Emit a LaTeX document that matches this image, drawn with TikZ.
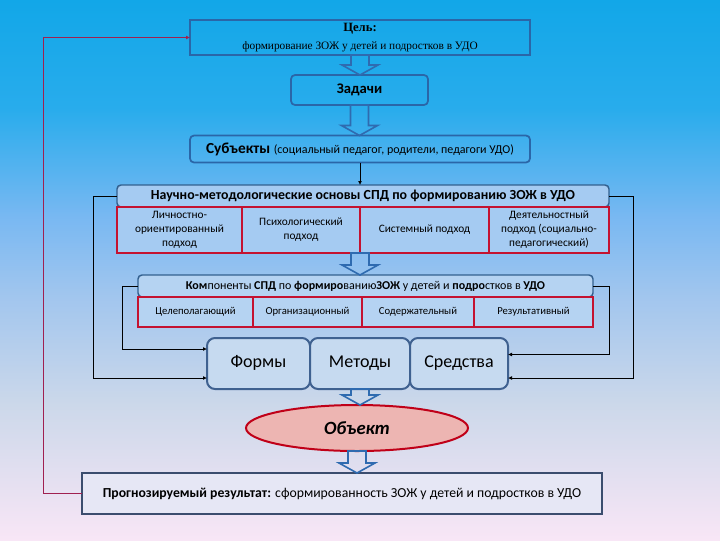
\documentclass[tikz,border=0pt]{standalone}
\usepackage{fontspec}
\setmainfont{Carlito}
\newfontfamily\serifcyr{Liberation Serif}
\usetikzlibrary{calc,shapes.geometric,arrows.meta}
\definecolor{bgA}{HTML}{12A7E8}
\definecolor{bgB}{HTML}{28ACEC}
\definecolor{bgC}{HTML}{78B8F2}
\definecolor{bgD}{HTML}{A2C6EE}
\definecolor{bgE}{HTML}{CCD8EA}
\definecolor{bgF}{HTML}{F8E6F6}
\definecolor{boxblue}{HTML}{2A66A8}
\definecolor{hdrfill}{HTML}{A5CBF2}
\definecolor{hdrdraw}{HTML}{33608F}
\definecolor{cellred}{HTML}{C41230}
\definecolor{kfill}{HTML}{B5D3F2}
\definecolor{ffill}{HTML}{C6DAF0}
\definecolor{fdraw}{HTML}{3F6190}
\definecolor{objfill}{HTML}{EDB5B2}
\definecolor{objdraw}{HTML}{C00018}
\definecolor{resfill}{HTML}{E6E7F5}
\definecolor{resdraw}{HTML}{3B4D6E}
\definecolor{redln}{HTML}{A02050}
\definecolor{arrblue}{HTML}{2F6BB0}
\pgfdeclareverticalshading{bgshade}{100bp}{color(0bp)=(bgF); color(25bp)=(bgF); color(37.5bp)=(bgE); color(47.5bp)=(bgD); color(55bp)=(bgC); color(65bp)=(bgB); color(75bp)=(bgA); color(100bp)=(bgA)}
\newcommand{\barrow}[2]{%
  \draw[barrowst] let \p1=(#1), \p2=(#2) in
  (\x1-6.75pt,\y1) -- (\x1-6.75pt,\y2+7.5pt) -- (\x1-13.5pt,\y2+7.5pt) -- (\x1,\y2)
  -- (\x1+13.5pt,\y2+7.5pt) -- (\x1+6.75pt,\y2+7.5pt) -- (\x1+6.75pt,\y1) -- cycle;}
\begin{document}
\begin{tikzpicture}[x=0.75pt,y=-0.75pt,
  every node/.style={inner sep=0pt, outer sep=0pt, align=center},
  plainbox/.style={draw=boxblue, line width=1.3pt},
  rbox/.style={plainbox, rounded corners=3pt},
  hdrbox/.style={draw=hdrdraw, fill=hdrfill, line width=1.1pt, rounded corners=3pt},
  khdrbox/.style={draw=hdrdraw, fill=kfill, line width=1.1pt, rounded corners=3pt},
  cellbox/.style={draw=cellred, fill=hdrfill, line width=1.1pt, font=\fontsize{8.5}{10.5}\selectfont},
  kcell/.style={draw=cellred, fill=kfill, line width=1.1pt, font=\fontsize{8}{9}\selectfont},
  fbox/.style={draw=fdraw, fill=ffill, line width=1.5pt, rounded corners=6pt, text height=9.5pt, text depth=3pt, font=\fontsize{13.5}{15}\selectfont},
  objell/.style={ellipse, draw=objdraw, fill=objfill, line width=1.5pt, font=\fontsize{14}{16}\selectfont\bfseries\itshape},
  resbox/.style={draw=resdraw, fill=resfill, line width=1.5pt, font=\fontsize{10.3}{12}\selectfont},
  conn/.style={draw=black, line width=0.7pt, -{Latex[length=3pt,width=3pt]}},
  redconn/.style={draw=redln, line width=0.7pt, -{Latex[length=3pt,width=3pt]}},
  barrowst/.style={draw=arrblue, line width=1.2pt, line join=miter}
]
\shade[shading=bgshade] (0,0) rectangle (720,540);
\useasboundingbox (0,0) rectangle (720,540);

% top chain
\node[plainbox, minimum width=255pt, minimum height=26.25pt, font=\serifcyr] (goal) at (360,37.5)
  {\serifcyr\fontsize{9.5}{10}\selectfont\textbf{Цель:}\\[2pt]\serifcyr\fontsize{8.5}{10}\selectfont формирование ЗОЖ у детей и подростков в УДО};
\node[rbox, minimum width=102.75pt, minimum height=22.5pt, font=\fontsize{11}{12}\selectfont\bfseries] (tasks) at (359.5,90) {Задачи};
\node[rbox, minimum width=255pt, minimum height=20.25pt] (subj) at (360,149)
  {\fontsize{11.5}{12}\selectfont\textbf{Субъекты} \fontsize{9}{10}\selectfont(социальный педагог, родители, педагоги УДО)};

% scientific bases
\node[hdrbox, minimum width=369pt, minimum height=16.5pt, font=\fontsize{10.4}{12}\selectfont\bfseries] (nhead) at (363,196)
  {Научно-методологические основы СПД по формированию ЗОЖ в УДО};
\node[cellbox, minimum width=93.75pt, minimum height=34.5pt] (c1) at (179.5,230) {Личностно-\\ориентированный\\подход};
\node[cellbox, minimum width=88.5pt, minimum height=34.5pt] (c2) at (301,230) {Психологический\\подход};
\node[cellbox, minimum width=96.75pt, minimum height=34.5pt] (c3) at (424.5,230) {Системный подход};
\node[cellbox, minimum width=90pt, minimum height=34.5pt] (c4) at (549,230) {Деятельностный\\подход (социально-\\педагогический)};

% components
\node[khdrbox, minimum width=341.25pt, minimum height=16.5pt, font=\fontsize{9}{10}\selectfont] (khead) at (365.5,286)
  {\textbf{Ком}поненты \textbf{СПД} по \textbf{формиро}ванию\textbf{ЗОЖ} у детей и \textbf{подро}стков в \textbf{УДО}};
\node[kcell, minimum width=86.25pt, minimum height=22.5pt] (k1) at (195.5,312) {Целеполагающий};
\node[kcell, minimum width=81.75pt, minimum height=22.5pt] (k2) at (307.5,312) {Организационный};
\node[kcell, minimum width=84pt, minimum height=22.5pt] (k3) at (418,312) {Содержательный};
\node[kcell, minimum width=89.25pt, minimum height=22.5pt] (k4) at (533.5,312) {Результативный};

% forms, methods, means
\node[fbox, minimum width=77.25pt, minimum height=38.25pt] (f1) at (258.5,363.5) {Формы};
\node[fbox, minimum width=75pt, minimum height=38.25pt] (f2) at (360,363.5) {Методы};
\node[fbox, minimum width=73.5pt, minimum height=38.25pt] (f3) at (459,363.5) {Средства};

% object and result
\node[objell, minimum width=166.5pt, minimum height=34.5pt] (obj) at (357,428) {Объект};
\node[resbox, minimum width=390pt, minimum height=30.75pt] (res) at (342,493.5)
  {\textbf{Прогнозируемый результат:} сформированность ЗОЖ у детей и подростков в УДО};

% block arrows
\barrow{goal.south}{tasks.north}
\barrow{tasks.south}{subj.north}
\barrow{c2.south east}{khead.north}
\barrow{f2.south}{obj.north}
\barrow{obj.south}{res.north}

% thin connectors
\draw[conn] (subj.south) -- (subj.south |- nhead.north);
\draw[conn] (nhead.west) -- ++(-24,0) |- ($(f1.west)+(0,14.5)$);
\draw[conn] (khead.west) -- ++(-16,0) |- ($(f1.west)+(0,-14.5)$);
\draw[conn] (nhead.east) -- ++(24,0) |- ($(f3.east)+(0,14.5)$);
\draw[conn] (khead.east) -- ++(16,0) |- ($(f3.east)+(0,-9)$);
\draw[redconn] (res.west) -- ++(-39,0) |- (goal.west);
\end{tikzpicture}
\end{document}
